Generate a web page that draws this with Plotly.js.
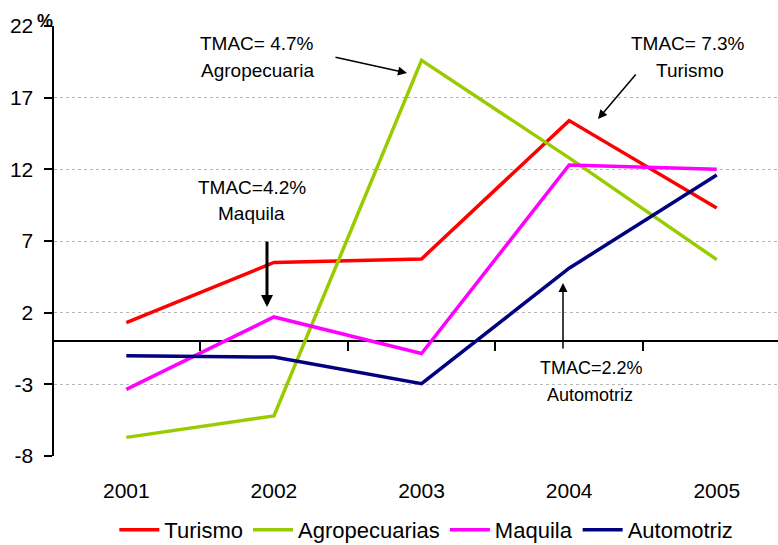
<!DOCTYPE html>
<html>
<head>
<meta charset="utf-8">
<script src="https://cdn.plot.ly/plotly-3.0.1.min.js"></script>
<style>html,body{margin:0;padding:0;background:#fff;}#chart{width:778px;height:545px;}</style>
</head>
<body>
<div id="chart"></div>
<script>
// ---- data ----
var years = ['2001', '2002', '2003', '2004', '2005'];
var seriesNames = ['Turismo', 'Agropecuarias', 'Maquila', 'Automotriz'];
var turismo = [1.3, 5.5, 5.75, 15.4, 9.3];
var agropecuarias = [-6.7, -5.2, 19.6, 12.8, 5.7];
var maquila = [-3.35, 1.7, -0.85, 12.3, 12.0];
var automotriz = [-1.0, -1.1, -2.95, 5.1, 11.6];
var yTickVals = [-8, -3, 2, 7, 12, 17, 22];
var annLines = [
  ['TMAC= 4.7%', 'Agropecuaria'],
  ['TMAC= 7.3%', 'Turismo'],
  ['TMAC=4.2%', 'Maquila'],
  ['TMAC=2.2%', 'Automotriz']
];

// ---- styling ----
var colors = ['#FF0000', '#99CC00', '#FF00FF', '#000080'];
var FONT = 'Liberation Sans, Arial, sans-serif';
var W = 778, H = 545;
var M = {l: 54, r: 0, t: 26, b: 89};
var PW = W - M.l - M.r, PH = H - M.t - M.b;
function px(x) { return (x - M.l) / PW; }
function py(y) { return (H - M.b - y) / PH; }

var values = [turismo, agropecuarias, maquila, automotriz];
var traces = values.map(function (v, i) {
  return {
    type: 'scatter', mode: 'lines', x: years, y: v, name: seriesNames[i],
    line: {color: colors[i], width: 3.5}, hoverinfo: 'x+y'
  };
});
// helper trace carrying the category boundary ticks on the zero line
traces.push({
  type: 'scatter', mode: 'lines', x: years, y: years.map(function () { return null; }),
  xaxis: 'x2', yaxis: 'y', showlegend: false, hoverinfo: 'skip', line: {width: 0}
});

var yr = [-8, 22];
var zeroPos = (0 - yr[0]) / (yr[1] - yr[0]);
var xr = [-0.49, 4.415];

var annotations = [];
function textAnn(t, x, y, size) {
  annotations.push({text: t, xref: 'paper', yref: 'paper', x: px(x), y: py(y),
    xanchor: 'center', yanchor: 'middle', showarrow: false,
    font: {family: FONT, size: size, color: '#000'}});
}
function arrowAnn(hx, hy, tx, ty, w, head, size) {
  annotations.push({text: '', xref: 'paper', yref: 'paper', x: px(hx), y: py(hy),
    ax: tx - hx, ay: ty - hy, showarrow: true, arrowhead: head, arrowsize: size,
    arrowwidth: w, arrowcolor: '#000', standoff: 0, startstandoff: 0});
}
textAnn(annLines[0][0], 257, 43, 19); textAnn(annLines[0][1], 257, 71, 19);
textAnn(annLines[1][0], 688, 43, 19); textAnn(annLines[1][1], 690, 71, 19);
textAnn(annLines[2][0], 252, 187, 19); textAnn(annLines[2][1], 251, 213, 19);
textAnn(annLines[3][0], 591, 368, 18); textAnn(annLines[3][1], 590, 395, 18);
arrowAnn(407, 73, 334, 57, 1.5, 2, 1.2);
arrowAnn(598, 119, 637, 73, 1.5, 2, 1.2);
arrowAnn(267, 307, 267, 240, 3, 2, 0.8);
arrowAnn(563, 283, 563, 350, 1.5, 2, 1.2);
annotations.push({text: '<b>%</b>', xref: 'paper', yref: 'paper', x: px(45), y: py(21),
  xanchor: 'center', yanchor: 'middle', showarrow: false,
  font: {family: FONT, size: 18, color: '#000'}});

var layout = {
  width: W, height: H,
  margin: M,
  paper_bgcolor: '#fff', plot_bgcolor: '#fff',
  font: {family: FONT, color: '#000'},
  showlegend: true,
  legend: {orientation: 'h', xref: 'container', yref: 'container', x: 0.548, xanchor: 'center',
    y: (H - 530) / H, yanchor: 'middle', font: {family: FONT, size: 22, color: '#000'},
    itemwidth: 40, tracegroupgap: 0},
  xaxis: {type: 'category', range: xr, showline: false, showgrid: false, zeroline: false,
    ticks: '', ticklabelstandoff: 20, tickfont: {family: FONT, size: 21, color: '#000'},
    fixedrange: true, automargin: false},
  xaxis2: {type: 'category', overlaying: 'x', anchor: 'free', position: zeroPos, side: 'bottom',
    range: xr, showline: false, showgrid: false, zeroline: false, showticklabels: false,
    ticks: 'outside', tickson: 'boundaries', ticklen: 9, tickwidth: 2, tickcolor: '#000'},
  yaxis: {range: yr, tickvals: yTickVals, ticktext: yTickVals.map(String),
    showline: true, linecolor: '#000', linewidth: 2.5,
    ticks: 'outside', ticklen: 8, tickwidth: 2, tickcolor: '#000', ticklabelstandoff: 6,
    showgrid: true, gridcolor: '#b8b8b8', gridwidth: 1, griddash: 'dot',
    zeroline: true, zerolinecolor: '#000', zerolinewidth: 2,
    tickfont: {family: FONT, size: 21, color: '#000'}, automargin: false},
  annotations: annotations
};

Plotly.newPlot('chart', traces, layout, {staticPlot: true, displayModeBar: false});
</script>
</body>
</html>
